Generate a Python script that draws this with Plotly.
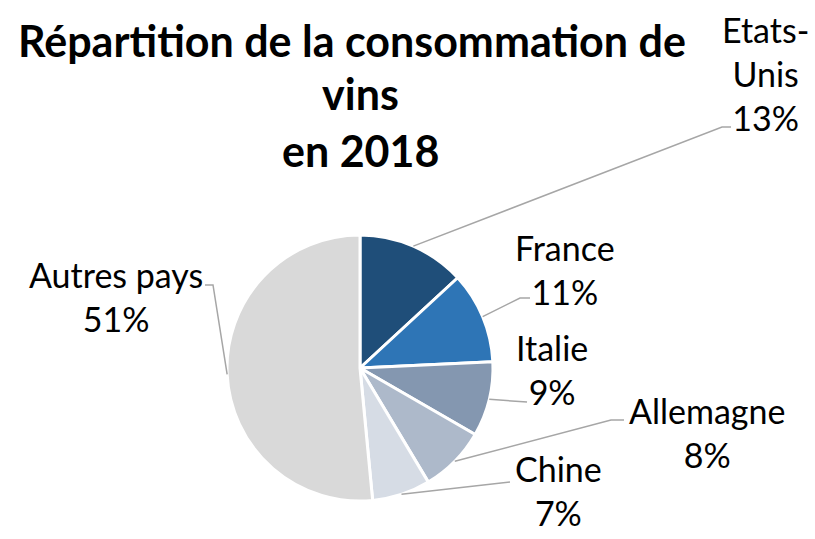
import math
import plotly.graph_objects as go

# Données
pays = ["Etats-Unis", "France", "Italie", "Allemagne", "Chine", "Autres pays"]
parts = [13, 11, 9, 8, 7, 51]
etiquettes = ["Etats-<br>Unis<br>13%", "France<br>11%", "Italie<br>9%",
              "Allemagne<br>8%", "Chine<br>7%", "Autres pays<br>51%"]
couleurs = ["#1F4E79", "#2E75B6", "#8497B0", "#ADB9CA", "#D6DCE5", "#D9D9D9"]

W, H = 815, 539
cx, cy, r = 360, 368, 133
police = "Lato"

fig = go.Figure()

fig.add_trace(go.Pie(
    labels=pays, values=parts, sort=False, direction="clockwise", rotation=0,
    marker=dict(colors=couleurs, line=dict(color="white", width=3)),
    textinfo="none", showlegend=False,
    domain=dict(x=[(cx - r) / W, (cx + r) / W], y=[1 - (cy + r) / H, 1 - (cy - r) / H]),
))

# position des étiquettes (centre du texte) et coude de la ligne de rappel
pos_texte = [(765, 73), (565, 269), (552, 369), (707, 432), (558, 490), (116, 296)]
coudes = [[(722, 127), (731, 127)], [(520, 298), (530, 298)], [(527, 402)],
          [(611, 420), (624, 420)], [(510, 482)], [(213, 285), (205, 285)]]

total = sum(parts)
cumul = 0
for i, v in enumerate(parts):
    a = (cumul + v / 2) / total * 2 * math.pi
    cumul += v
    x0, y0 = cx + r * math.sin(a), cy - r * math.cos(a)
    pts = [(x0, y0)] + coudes[i]
    path = "M " + " L ".join(f"{px},{py}" for px, py in pts)
    fig.add_shape(type="path", path=path, xref="x", yref="y",
                  line=dict(color="#A6A6A6", width=1.5))
    fig.add_annotation(x=pos_texte[i][0], y=pos_texte[i][1], xref="x", yref="y",
                       text=etiquettes[i], showarrow=False,
                       font=dict(family=police, size=34, color="black"))

titre = ["Répartition de la consommation de", "vins", "en 2018"]
ys = [40, 93, 150]
xs = [352, 360, 360]
for t, x, y in zip(titre, xs, ys):
    fig.add_annotation(x=x, y=y, xref="x", yref="y", text=f"<b>{t}</b>", showarrow=False,
                       font=dict(family=police, size=43, color="black"))

fig.update_xaxes(range=[0, W], visible=False)
fig.update_yaxes(range=[H, 0], visible=False)
fig.update_layout(width=W, height=H, margin=dict(l=0, r=0, t=0, b=0),
                  plot_bgcolor="white", paper_bgcolor="white")

fig.write_html("out.html", config={"displayModeBar": False},
               post_script="document.body.style.margin='0';")
